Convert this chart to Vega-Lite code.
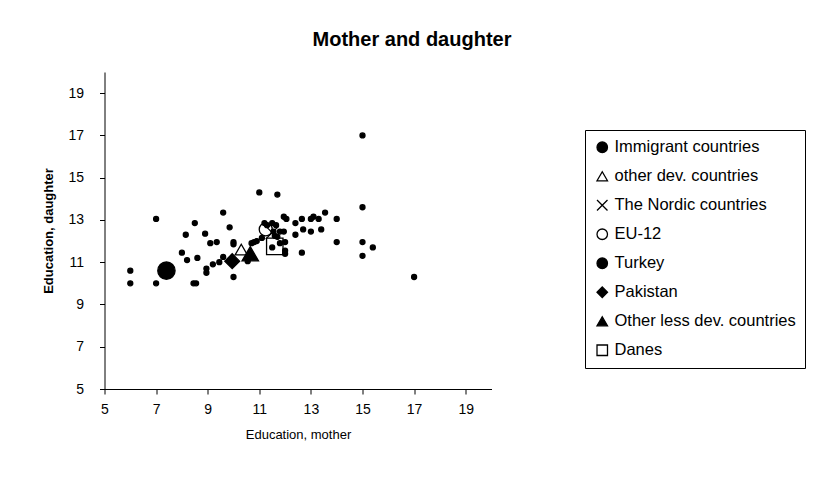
{
  "$schema": "https://vega.github.io/schema/vega-lite/v6.json",
  "autosize": "none",
  "padding": {"left": 104.5, "top": 72, "right": 338.5, "bottom": 91},
  "width": 387,
  "height": 317,
  "background": "white",
  "title": {
    "text": "Mother and daughter",
    "font": "Liberation Sans",
    "fontSize": 20,
    "fontWeight": "bold",
    "color": "black",
    "anchor": "middle",
    "dx": 114,
    "offset": 22
  },
  "config": {
    "view": {"stroke": null},
    "axis": {
      "grid": false,
      "domainColor": "black",
      "domainWidth": 1,
      "tickColor": "black",
      "tickSize": 5,
      "labelFont": "Liberation Sans",
      "labelFontSize": 14,
      "labelColor": "black",
      "titleFont": "Liberation Sans",
      "titleFontSize": 13,
      "titleColor": "black"
    },
    "legend": {
      "padding": 9,
      "strokeColor": "black",
      "fillColor": "white",
      "labelFont": "Liberation Sans",
      "labelFontSize": 16.5,
      "labelColor": "black",
      "labelOffset": 4,
      "labelLimit": 400,
      "rowPadding": 12,
      "symbolStrokeWidth": 1.3,
      "symbolSize": 110
    }
  },
  "data": {
    "values": [
      {"m": 6.0, "d": 10.6, "g": "Immigrant countries"},
      {"m": 6.0, "d": 10.0, "g": "Immigrant countries"},
      {"m": 7.0, "d": 10.0, "g": "Immigrant countries"},
      {"m": 7.0, "d": 13.05, "g": "Immigrant countries"},
      {"m": 8.0, "d": 11.45, "g": "Immigrant countries"},
      {"m": 8.2, "d": 11.1, "g": "Immigrant countries"},
      {"m": 8.6, "d": 11.2, "g": "Immigrant countries"},
      {"m": 8.45, "d": 10.0, "g": "Immigrant countries"},
      {"m": 8.55, "d": 10.0, "g": "Immigrant countries"},
      {"m": 8.15, "d": 12.3, "g": "Immigrant countries"},
      {"m": 8.5, "d": 12.85, "g": "Immigrant countries"},
      {"m": 8.9, "d": 12.35, "g": "Immigrant countries"},
      {"m": 9.1, "d": 11.9, "g": "Immigrant countries"},
      {"m": 9.35, "d": 11.95, "g": "Immigrant countries"},
      {"m": 9.6, "d": 13.35, "g": "Immigrant countries"},
      {"m": 9.85, "d": 12.65, "g": "Immigrant countries"},
      {"m": 8.95, "d": 10.7, "g": "Immigrant countries"},
      {"m": 8.95, "d": 10.5, "g": "Immigrant countries"},
      {"m": 9.2, "d": 10.9, "g": "Immigrant countries"},
      {"m": 9.45, "d": 11.0, "g": "Immigrant countries"},
      {"m": 9.6, "d": 11.25, "g": "Immigrant countries"},
      {"m": 10.0, "d": 11.95, "g": "Immigrant countries"},
      {"m": 10.0, "d": 11.85, "g": "Immigrant countries"},
      {"m": 10.0, "d": 10.3, "g": "Immigrant countries"},
      {"m": 10.55, "d": 11.05, "g": "Immigrant countries"},
      {"m": 10.7, "d": 11.9, "g": "Immigrant countries"},
      {"m": 10.8, "d": 11.95, "g": "Immigrant countries"},
      {"m": 10.9, "d": 12.0, "g": "Immigrant countries"},
      {"m": 11.1, "d": 12.15, "g": "Immigrant countries"},
      {"m": 11.0, "d": 14.3, "g": "Immigrant countries"},
      {"m": 11.7, "d": 14.2, "g": "Immigrant countries"},
      {"m": 11.2, "d": 12.85, "g": "Immigrant countries"},
      {"m": 11.5, "d": 12.85, "g": "Immigrant countries"},
      {"m": 11.65, "d": 12.75, "g": "Immigrant countries"},
      {"m": 11.3, "d": 12.75, "g": "Immigrant countries"},
      {"m": 11.55, "d": 12.45, "g": "Immigrant countries"},
      {"m": 11.8, "d": 12.45, "g": "Immigrant countries"},
      {"m": 11.6, "d": 12.25, "g": "Immigrant countries"},
      {"m": 11.7, "d": 12.2, "g": "Immigrant countries"},
      {"m": 11.8, "d": 11.9, "g": "Immigrant countries"},
      {"m": 11.5, "d": 11.7, "g": "Immigrant countries"},
      {"m": 11.95, "d": 13.15, "g": "Immigrant countries"},
      {"m": 12.05, "d": 13.05, "g": "Immigrant countries"},
      {"m": 12.4, "d": 12.85, "g": "Immigrant countries"},
      {"m": 12.4, "d": 12.3, "g": "Immigrant countries"},
      {"m": 11.95, "d": 12.45, "g": "Immigrant countries"},
      {"m": 12.0, "d": 11.95, "g": "Immigrant countries"},
      {"m": 12.0, "d": 11.55, "g": "Immigrant countries"},
      {"m": 12.0, "d": 11.4, "g": "Immigrant countries"},
      {"m": 12.65, "d": 13.05, "g": "Immigrant countries"},
      {"m": 13.0, "d": 13.05, "g": "Immigrant countries"},
      {"m": 13.1, "d": 13.15, "g": "Immigrant countries"},
      {"m": 13.3, "d": 13.05, "g": "Immigrant countries"},
      {"m": 13.55, "d": 13.35, "g": "Immigrant countries"},
      {"m": 14.0, "d": 13.05, "g": "Immigrant countries"},
      {"m": 12.7, "d": 12.55, "g": "Immigrant countries"},
      {"m": 13.0, "d": 12.45, "g": "Immigrant countries"},
      {"m": 13.4, "d": 12.55, "g": "Immigrant countries"},
      {"m": 12.65, "d": 11.45, "g": "Immigrant countries"},
      {"m": 14.0, "d": 11.95, "g": "Immigrant countries"},
      {"m": 15.0, "d": 17.0, "g": "Immigrant countries"},
      {"m": 15.0, "d": 13.6, "g": "Immigrant countries"},
      {"m": 15.0, "d": 11.95, "g": "Immigrant countries"},
      {"m": 15.0, "d": 11.3, "g": "Immigrant countries"},
      {"m": 15.4, "d": 11.7, "g": "Immigrant countries"},
      {"m": 17.0, "d": 10.3, "g": "Immigrant countries"},
      {"m": 11.6, "d": 11.75, "g": "Danes"},
      {"m": 7.4, "d": 10.6, "g": "Turkey"},
      {"m": 9.95, "d": 11.05, "g": "Pakistan"},
      {"m": 10.3, "d": 11.6, "g": "other dev. countries"},
      {"m": 10.65, "d": 11.4, "g": "Other less dev. countries"},
      {"m": 11.25, "d": 12.55, "g": "EU-12"},
      {"m": 11.5, "d": 12.4, "g": "The Nordic countries"}
    ]
  },
  "mark": {"type": "point", "strokeWidth": 1.3, "opacity": 1, "fillOpacity": 1},
  "encoding": {
    "x": {
      "field": "m", "type": "quantitative",
      "scale": {"domain": [5, 20], "nice": false, "zero": false},
      "axis": {"values": [5, 7, 9, 11, 13, 15, 17, 19], "title": "Education, mother", "titleFontWeight": "normal", "labelPadding": 8, "titlePadding": 12, "labelFlush": false}
    },
    "y": {
      "field": "d", "type": "quantitative",
      "scale": {"domain": [5, 20], "nice": false, "zero": false},
      "axis": {"values": [5, 7, 9, 11, 13, 15, 17, 19], "title": "Education, daughter", "titleFontWeight": "bold", "labelPadding": 16, "titlePadding": 12, "labelFlush": false}
    },
    "shape": {
      "field": "g", "type": "nominal",
      "scale": {
        "domain": ["Immigrant countries", "other dev. countries", "The Nordic countries", "EU-12", "Turkey", "Pakistan", "Other less dev. countries", "Danes"],
        "range": ["circle", "triangle-up", "M-1,-1L1,1M-1,1L1,-1", "circle", "circle", "diamond", "triangle-up", "square"]
      },
      "legend": {"title": null, "orient": "none", "legendX": 480.5, "legendY": 58}
    },
    "fill": {
      "field": "g", "type": "nominal",
      "scale": {
        "domain": ["Immigrant countries", "other dev. countries", "The Nordic countries", "EU-12", "Turkey", "Pakistan", "Other less dev. countries", "Danes"],
        "range": ["black", "white", "black", "transparent", "black", "black", "black", "transparent"]
      },
      "legend": {"title": null, "orient": "none", "legendX": 480.5, "legendY": 58}
    },
    "stroke": {
      "field": "g", "type": "nominal",
      "scale": {
        "domain": ["Immigrant countries", "other dev. countries", "The Nordic countries", "EU-12", "Turkey", "Pakistan", "Other less dev. countries", "Danes"],
        "range": ["black", "black", "black", "black", "black", "black", "black", "black"]
      },
      "legend": {"title": null, "orient": "none", "legendX": 480.5, "legendY": 58}
    },
    "size": {
      "condition": [
        {"test": "datum.g === 'Turkey'", "value": 300},
        {"test": "datum.g === 'Danes'", "value": 270},
        {"test": "datum.g === 'EU-12'", "value": 170},
        {"test": "datum.g === 'Pakistan'", "value": 220},
        {"test": "datum.g === 'other dev. countries'", "value": 150},
        {"test": "datum.g === 'Other less dev. countries'", "value": 270},
        {"test": "datum.g === 'The Nordic countries'", "value": 170}
      ],
      "value": 25
    }
  }
}
